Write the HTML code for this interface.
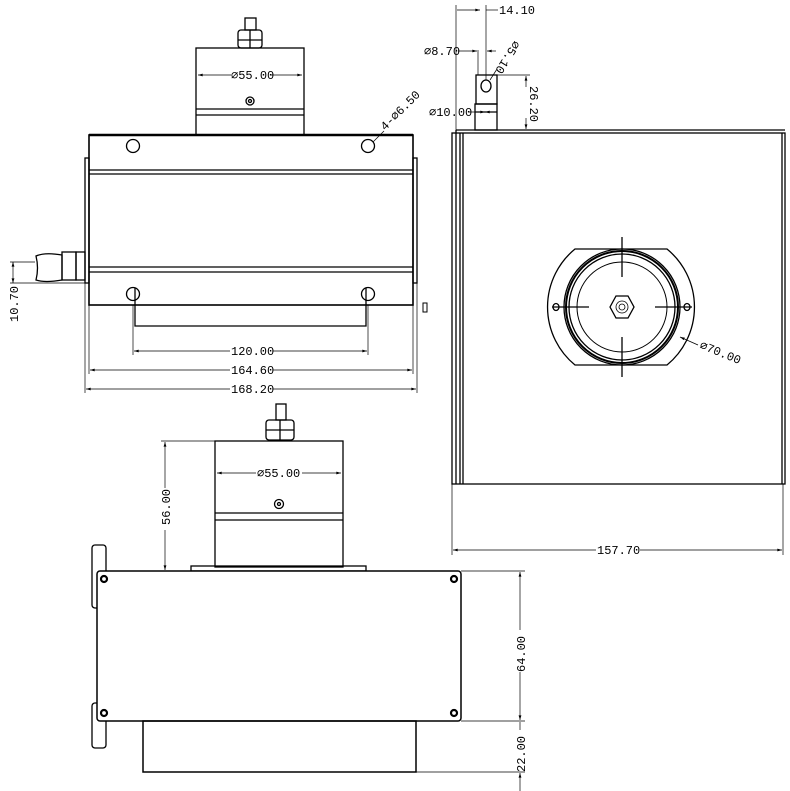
<!DOCTYPE html>
<html><head><meta charset="utf-8"><style>
html,body{margin:0;padding:0;background:#fff}
svg{display:block}
text{font-family:"Liberation Mono","DejaVu Sans Mono",monospace;font-size:12px;fill:#000}
</style></head><body>
<svg width="790" height="791" viewBox="0 0 790 791" xmlns="http://www.w3.org/2000/svg">
<defs>
<marker id="a" viewBox="0 0 10 6" refX="10" refY="3" markerWidth="8" markerHeight="4" orient="auto-start-reverse"><path d="M0,0L10,3L0,6z" fill="#000"/></marker>
</defs>
<g fill="none" stroke="#000" stroke-width="1.3">
<!-- TOP VIEW -->
<rect x="245" y="18" width="11" height="12"/>
<rect x="238" y="30" width="24" height="18" rx="3"/>
<line x1="250" y1="30" x2="250" y2="48"/><line x1="238" y1="40" x2="262" y2="40"/>
<rect x="196" y="48" width="108" height="87"/>
<line x1="196" y1="109" x2="304" y2="109"/><line x1="196" y1="115" x2="304" y2="115"/>
<circle cx="250" cy="101" r="4"/><circle cx="250" cy="101" r="1.5"/>
<rect x="89" y="135" width="324" height="170" stroke-width="1.6"/>
<line x1="89" y1="135" x2="413" y2="135" stroke-width="2.5"/>
<line x1="89" y1="170" x2="413" y2="170"/><line x1="89" y1="174" x2="413" y2="174"/>
<line x1="89" y1="267" x2="413" y2="267"/><line x1="89" y1="272" x2="413" y2="272"/>
<rect x="85" y="158" width="4" height="125"/><rect x="413" y="158" width="4" height="125"/>
<circle cx="133" cy="146" r="6.5"/><circle cx="368" cy="146" r="6.5"/>
<circle cx="133" cy="294" r="6.5"/><circle cx="368" cy="294" r="6.5"/>
<line x1="135" y1="288" x2="135" y2="305"/><line x1="366" y1="288" x2="366" y2="305"/>
<path d="M135,305V326H366V305"/>
<path d="M36,256 Q45,252 62,255 V280 Q45,283 36,280 Q39,268 36,256z"/>
<rect x="62" y="252" width="14" height="28"/><rect x="76" y="252" width="9" height="28"/>
<rect x="423" y="303" width="4" height="9" stroke-width="1"/>
</g>
<g fill="none" stroke="#000" stroke-width="0.7">
<line x1="198" y1="75" x2="231" y2="75" marker-start="url(#a)"/><line x1="270" y1="75" x2="302" y2="75" marker-end="url(#a)"/>
<line x1="10" y1="262" x2="35" y2="262"/><line x1="10" y1="283" x2="85" y2="283"/>
<line x1="13" y1="262" x2="13" y2="283" marker-start="url(#a)" marker-end="url(#a)"/>
<line x1="133" y1="305" x2="133" y2="355"/><line x1="368" y1="305" x2="368" y2="355"/>
<line x1="89" y1="305" x2="89" y2="374"/><line x1="413" y1="305" x2="413" y2="374"/>
<line x1="85" y1="283" x2="85" y2="393"/><line x1="417" y1="283" x2="417" y2="393"/>
<line x1="134" y1="351" x2="230" y2="351" marker-start="url(#a)"/><line x1="273" y1="351" x2="367" y2="351" marker-end="url(#a)"/>
<line x1="90" y1="370" x2="230" y2="370" marker-start="url(#a)"/><line x1="273" y1="370" x2="412" y2="370" marker-end="url(#a)"/>
<line x1="86" y1="389" x2="230" y2="389" marker-start="url(#a)"/><line x1="273" y1="389" x2="416" y2="389" marker-end="url(#a)"/>
<line x1="373" y1="142" x2="384" y2="131"/>
</g>
<text x="231" y="79">⌀55.00</text>
<text x="231" y="355">120.00</text>
<text x="231" y="374">164.60</text>
<text x="231" y="393">168.20</text>
<text transform="translate(18,322) rotate(-90)">10.70</text>
<text transform="translate(385,131) rotate(-45)">4-⌀6.50</text>

<!-- RIGHT VIEW -->
<g fill="none" stroke="#000" stroke-width="1.3">
<rect x="452" y="133" width="333" height="351"/>
<line x1="456" y1="130" x2="785" y2="130"/><line x1="456" y1="130" x2="456" y2="484"/>
<line x1="460" y1="133" x2="460" y2="484"/><line x1="463" y1="133" x2="463" y2="484"/>
<line x1="782" y1="133" x2="782" y2="484"/>
<rect x="476" y="75" width="21" height="29"/>
<rect x="475" y="104" width="22" height="26"/>
<line x1="475" y1="112" x2="497" y2="112"/>
<ellipse cx="486" cy="86" rx="5" ry="6"/>
<path d="M575,249H667 A75,75 0 0 1 667,365 H575 A75,75 0 0 1 575,249z"/>
<circle cx="622" cy="307" r="58"/><circle cx="622" cy="307" r="56" stroke-width="2"/><circle cx="622" cy="307" r="53"/>
<circle cx="622" cy="307" r="45" stroke-width="1"/>
<path d="M610,307L616,296H628L634,307L628,318H616z"/>
<circle cx="622" cy="307" r="6" stroke-width="0.8"/><circle cx="622" cy="307" r="3" stroke-width="0.8"/>
<line x1="622" y1="237" x2="622" y2="277"/><line x1="622" y1="337" x2="622" y2="377"/>
<line x1="552" y1="307" x2="589" y2="307"/><line x1="655" y1="307" x2="692" y2="307"/>
<ellipse cx="556" cy="307" rx="3" ry="3.5"/><ellipse cx="687" cy="307" rx="3" ry="3.5"/>
</g>
<g fill="none" stroke="#000" stroke-width="0.7">
<line x1="456" y1="5" x2="456" y2="130"/><line x1="486" y1="5" x2="486" y2="80"/>
<line x1="457" y1="10" x2="480" y2="10" marker-end="url(#a)"/><line x1="486" y1="10" x2="498" y2="10"/>
<line x1="478" y1="50" x2="478" y2="75"/>
<line x1="458" y1="51" x2="477" y2="51" marker-end="url(#a)"/><line x1="487" y1="51" x2="496" y2="51" marker-start="url(#a)"/>
<line x1="468" y1="112" x2="485" y2="112" marker-end="url(#a)"/><line x1="497" y1="112" x2="485" y2="112" marker-end="url(#a)"/>
<line x1="497" y1="75" x2="530" y2="75"/>
<line x1="526" y1="76" x2="526" y2="87" marker-start="url(#a)"/><line x1="526" y1="118" x2="526" y2="129" marker-end="url(#a)"/>
<line x1="490" y1="80" x2="497" y2="69"/>
<line x1="680" y1="337" x2="698" y2="345" marker-start="url(#a)"/>
<line x1="452" y1="484" x2="452" y2="555"/><line x1="783" y1="484" x2="783" y2="555"/>
<line x1="453" y1="550" x2="596" y2="550" marker-start="url(#a)"/><line x1="640" y1="550" x2="782" y2="550" marker-end="url(#a)"/>
</g>
<text x="499" y="14">14.10</text>
<text x="424" y="55">⌀8.70</text>
<text x="429" y="116">⌀10.00</text>
<text transform="translate(530,86) rotate(90)">26.20</text>
<text transform="translate(514,40) rotate(122)">⌀5.10</text>
<text transform="translate(699,348) rotate(22)">⌀70.00</text>
<text x="597" y="554">157.70</text>

<!-- BOTTOM VIEW -->
<g fill="none" stroke="#000" stroke-width="1.3">
<rect x="276" y="404" width="10" height="16"/>
<rect x="266" y="420" width="28" height="20" rx="3"/>
<line x1="280" y1="420" x2="280" y2="440"/><line x1="266" y1="430" x2="294" y2="430"/>
<rect x="215" y="441" width="128" height="126"/>
<line x1="215" y1="513" x2="343" y2="513"/><line x1="215" y1="520" x2="343" y2="520"/>
<circle cx="279" cy="504" r="4.5"/><circle cx="279" cy="504" r="1.5"/>
<rect x="191" y="566" width="175" height="5"/>
<rect x="92" y="545" width="14" height="63" rx="3"/>
<rect x="92" y="703" width="14" height="45" rx="3"/>
<rect x="97" y="571" width="364" height="150" rx="3" fill="#fff" stroke-width="1.5"/>
<rect x="143" y="721" width="273" height="51" stroke-width="1.5"/>
</g>
<g fill="#fff" stroke="#000" stroke-width="2.2">
<circle cx="104" cy="579" r="3"/><circle cx="454" cy="579" r="3"/>
<circle cx="104" cy="713" r="3"/><circle cx="454" cy="713" r="3"/>
</g>
<g fill="none" stroke="#000" stroke-width="0.7">
<line x1="217" y1="473" x2="256" y2="473" marker-start="url(#a)"/><line x1="302" y1="473" x2="341" y2="473" marker-end="url(#a)"/>
<line x1="161" y1="441" x2="215" y2="441"/>
<line x1="165" y1="442" x2="165" y2="488" marker-start="url(#a)"/><line x1="165" y1="530" x2="165" y2="570" marker-end="url(#a)"/>
<line x1="461" y1="571" x2="525" y2="571"/><line x1="461" y1="721" x2="525" y2="721"/><line x1="416" y1="772" x2="525" y2="772"/>
<line x1="520" y1="572" x2="520" y2="630" marker-start="url(#a)"/><line x1="520" y1="672" x2="520" y2="720" marker-end="url(#a)"/>
<line x1="520" y1="791" x2="520" y2="773" marker-end="url(#a)"/>
<line x1="520" y1="722" x2="520" y2="730"/>
</g>
<text x="257" y="477">⌀55.00</text>
<text transform="translate(170,525) rotate(-90)">56.00</text>
<text transform="translate(525,672) rotate(-90)">64.00</text>
<text transform="translate(525,772) rotate(-90)">22.00</text>
</svg>
</body></html>
